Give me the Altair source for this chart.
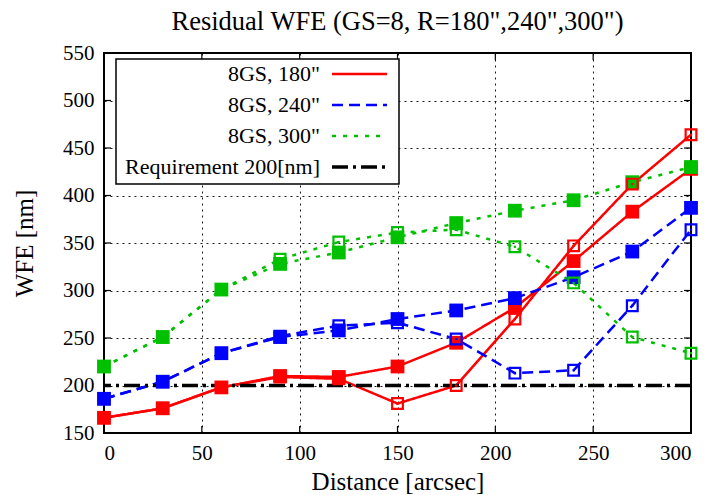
import altair as alt
import pandas as pd

# Off-axis distance of each evaluation point [arcsec]
distance = [0, 30, 60, 90, 120, 150, 180, 210, 240, 270, 300]

# Residual WFE [nm]; two cases per guide-star radius (filled / open markers)
r180_filled = [166, 176, 198, 210, 209, 220, 245, 282, 331, 383, 428]
r180_open = [166, 176, 198, 209, 207, 181, 200, 270, 347, 412, 464]
r240_filled = [186, 204, 234, 251, 258, 270, 279, 292, 314, 341, 387]
r240_open = [186, 204, 234, 252, 263, 266, 249, 213, 216, 284, 364]
r300_filled = [220, 251, 301, 328, 340, 356, 371, 384, 395, 414, 430]
r300_open = [220, 251, 301, 333, 351, 361, 364, 346, 308, 251, 234]

requirement = 200

series_names = ['8GS, 180"', '8GS, 240"', '8GS, 300"']
series_colors = ["#ff0000", "#0000ff", "#00c000"]
series_dash = [[1, 0], [11, 6], [4, 7]]

x_ticks = [0, 50, 100, 150, 200, 250, 300]
y_ticks = [150, 200, 250, 300, 350, 400, 450, 500, 550]

rows = []
for name, filled, opened in [
    (series_names[0], r180_filled, r180_open),
    (series_names[1], r240_filled, r240_open),
    (series_names[2], r300_filled, r300_open),
]:
    for d, v in zip(distance, filled):
        rows.append({"distance": d, "wfe": v, "series": name, "variant": "filled"})
    for d, v in zip(distance, opened):
        rows.append({"distance": d, "wfe": v, "series": name, "variant": "open"})
df = pd.DataFrame(rows)

W, H = 587, 380
FONT = "Liberation Serif"

xs = alt.Scale(domain=[0, 300], nice=False)
ys = alt.Scale(domain=[150, 550], nice=False)
color = alt.Color("series:N", scale=alt.Scale(domain=series_names, range=series_colors), legend=None)
dash = alt.StrokeDash("series:N", scale=alt.Scale(domain=series_names, range=series_dash), legend=None)

x_enc = alt.X("distance:Q", scale=xs, title="Distance [arcsec]",
              axis=alt.Axis(values=x_ticks, format="d"))
y_enc = alt.Y("wfe:Q", scale=ys, title="WFE [nm]",
              axis=alt.Axis(values=y_ticks, format="d"))

base = alt.Chart(df)

lines = base.mark_line(strokeWidth=2.5).encode(
    x=x_enc, y=y_enc, color=color, strokeDash=dash, detail="variant:N"
)

req_line = alt.Chart(pd.DataFrame({"wfe": [requirement]})).mark_rule(
    color="black", strokeWidth=3.5, strokeDash=[16, 5, 3, 5]
).encode(y=alt.Y("wfe:Q", scale=ys))

filled_pts = base.transform_filter(alt.datum.variant == "filled").mark_point(
    shape="square", filled=True, size=190, opacity=1
).encode(x="distance:Q", y="wfe:Q", color=color)

open_pts = base.transform_filter(alt.datum.variant == "open").mark_point(
    shape="square", filled=False, size=115, strokeWidth=2.2, opacity=1
).encode(x="distance:Q", y="wfe:Q", color=color)

open_dots = base.transform_filter(alt.datum.variant == "open").mark_point(
    shape="square", filled=True, size=5, opacity=1
).encode(x="distance:Q", y="wfe:Q", color=color)

# inward tick marks on all four sides of the frame
TICK = 7
xt = alt.Chart(pd.DataFrame({"t": x_ticks}))
yt = alt.Chart(pd.DataFrame({"t": y_ticks}))
tick_style = dict(color="black", strokeWidth=1.2)
ticks = [
    xt.mark_rule(**tick_style).encode(x=alt.X("t:Q", scale=xs), y=alt.value(H), y2=alt.value(H - TICK)),
    xt.mark_rule(**tick_style).encode(x=alt.X("t:Q", scale=xs), y=alt.value(0), y2=alt.value(TICK)),
    yt.mark_rule(**tick_style).encode(y=alt.Y("t:Q", scale=ys), x=alt.value(0), x2=alt.value(TICK)),
    yt.mark_rule(**tick_style).encode(y=alt.Y("t:Q", scale=ys), x=alt.value(W), x2=alt.value(W - TICK)),
]

# key box in the upper-left corner
one = pd.DataFrame({"k": [0]})
key_box = alt.Chart(one).mark_rect(fill="white", stroke="black", strokeWidth=1.5).encode(
    x=alt.value(12), x2=alt.value(295), y=alt.value(6), y2=alt.value(131)
)
key_labels = series_names + ["Requirement 200[nm]"]
key_colors = series_colors + ["black"]
key_dash = series_dash + [[16, 5, 3, 5]]
key_width = [2.5, 2.5, 2.5, 3.5]
key_rows = [21, 52, 83, 114]
key_layers = [key_box]
for lab, col, dsh, sw, ry in zip(key_labels, key_colors, key_dash, key_width, key_rows):
    src = alt.Chart(pd.DataFrame({"label": [lab]}))
    key_layers.append(
        src.mark_text(align="right", baseline="middle", font=FONT, fontSize=22, color="black").encode(
            x=alt.value(216), y=alt.value(ry), text="label:N"
        )
    )
    key_layers.append(
        src.mark_rule(color=col, strokeDash=dsh, strokeWidth=sw).encode(
            x=alt.value(228), x2=alt.value(283), y=alt.value(ry), y2=alt.value(ry)
        )
    )

chart = alt.layer(
    lines, req_line, filled_pts, open_pts, open_dots, *ticks, *key_layers
).properties(
    width=W,
    height=H,
    title=alt.TitleParams(
        'Residual WFE (GS=8, R=180",240",300")',
        font=FONT, fontSize=26.5, fontWeight="normal", anchor="middle", color="black", offset=7,
    ),
    autosize=alt.AutoSizeParams(type="none"),
    padding={"left": 104, "top": 53, "right": 20, "bottom": 62},
).configure_view(
    stroke="black", strokeWidth=2
).configure_axis(
    domain=False,
    ticks=False,
    grid=True,
    gridColor="black",
    gridDash=[2, 4],
    gridWidth=1,
    gridOpacity=0.9,
    labelFont=FONT,
    labelFontSize=21,
    labelColor="black",
    titleFont=FONT,
    titleFontSize=25,
    titleFontWeight="normal",
    titleColor="black",
).configure_axisX(
    labelPadding=9, titlePadding=6
).configure_axisY(
    labelPadding=10, titlePadding=25
)

chart.save("out.html", embed_options={"renderer": "svg", "actions": False})
